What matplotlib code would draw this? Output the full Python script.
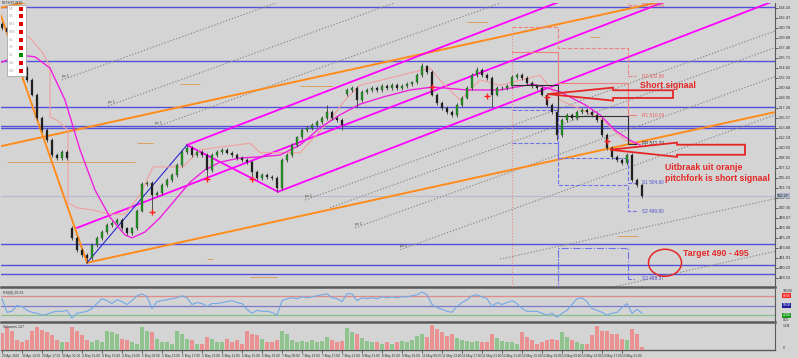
import numpy as np
import matplotlib.pyplot as plt
from matplotlib.patches import Ellipse, Polygon, Rectangle

plt.rcParams['font.family'] = ['Liberation Sans', 'DejaVu Sans']

# ---------------- data ----------------
# close of every bar, bar 0 = 29 Apr
closes = [530.8, 530.1, 527.9, 526.2, 524.0, 522.0, 519.5, 515.6, 513.5, 511.8,
          509.3, 508.8, 509.8, 508.8, 495.3, 493.3, 492.4, 491.9, 494.1, 495.3,
          496.3, 497.5, 497.9, 498.3, 496.9, 496.1, 496.9, 499.9, 504.4, 504.6,
          502.6, 502.9, 504.2, 505.1, 505.9, 507.6, 509.8, 510.5, 509.3, 509.8,
          509.3, 506.8, 509.3, 509.8, 510.2, 509.7, 509.3, 508.8, 508.5, 508.1,
          506.4, 505.4, 505.9, 505.6, 505.4, 503.7, 508.5, 509.3, 511.0, 512.3,
          513.5, 513.9, 514.4, 514.9, 515.6, 516.6, 515.6, 515.2, 514.4, 520.3,
          520.6, 518.6, 520.0, 520.3, 520.6, 520.3, 521.0, 520.6, 521.1, 520.6,
          521.0, 521.3, 521.6, 522.8, 524.3, 523.3, 519.5, 518.1, 517.3, 516.6,
          516.1, 517.8, 519.0, 520.6, 522.8, 523.7, 522.8, 522.3, 519.5, 520.6,
          520.6, 521.0, 522.5, 522.8, 522.3, 521.5, 521.0, 520.6, 519.5, 517.8,
          516.6, 512.7, 515.2, 516.1, 515.6, 516.6, 516.9, 516.6, 516.1, 515.2,
          512.7, 510.5, 509.0, 508.5, 508.0, 509.3, 505.1, 504.2, 502.4]
first_open = 531.5
gap_bars = [14, 69]
gap_opens = [497.0, 519.6]
spike_low_bars = [17, 30, 41, 50, 55, 68, 71, 90, 98, 111]
spike_lows = [491.1, 499.7, 505.5, 505.6, 503.0, 513.5, 517.4, 515.8, 517.4, 511.8]
spike_high_bars = [37, 65, 84, 95]
spike_highs = [511.0, 517.8, 524.9, 524.1]

volumes = [650, 880, 750, 380, 310, 380, 750, 880, 780, 690,
           560, 380, 310, 310, 880, 750, 560, 380, 310, 380,
           310, 750, 690, 620, 440, 380, 310, 250, 880, 750,
           690, 440, 310, 310, 250, 750, 620, 440, 380, 250,
           250, 500, 440, 310, 310, 440, 310, 380, 250, 750,
           620, 560, 440, 310, 310, 380, 750, 620, 380, 310,
           350, 300, 400, 300, 350, 500, 400, 300, 350, 850,
           700, 600, 450, 350, 300, 300, 250, 300, 250, 300,
           350, 300, 400, 550, 600, 500, 950, 800, 700, 550,
           600, 450, 400, 350, 300, 350, 300, 300, 600, 450,
           350, 310, 300, 250, 700, 500, 400, 250, 300, 380,
           440, 380, 690, 500, 400, 310, 250, 250, 560, 940,
           750, 750, 620, 620, 440, 380, 810, 620, 120]

rsi = [71, 29, 32, 50, 47, 35, 29, 26, 20, 23,
       29, 32, 32, 35, 11, 26, 29, 32, 41, 56,
       71, 65, 56, 68, 62, 53, 65, 80, 86, 77,
       41, 62, 65, 68, 71, 74, 80, 74, 53, 59,
       56, 47, 56, 56, 59, 62, 65, 59, 56, 38,
       26, 35, 32, 32, 29, 20, 65, 71, 74, 71,
       77, 74, 77, 80, 83, 86, 74, 71, 62, 86,
       86, 65, 74, 71, 74, 71, 77, 74, 77, 74,
       77, 77, 80, 83, 92, 83, 53, 44, 38, 32,
       29, 47, 59, 68, 80, 83, 77, 71, 47, 59,
       53, 59, 65, 56, 41, 32, 32, 32, 26, 20,
       26, 14, 26, 35, 53, 71, 74, 62, 41, 35,
       29, 20, 26, 29, 44, 56, 26, 38, 26]
rsi_levels = [80, 50, 20]

# magenta moving average
ma_bars = [-0.4, 3.6, 6.6, 9.6, 12.6, 15.6, 18.6, 21.6, 24.6, 26.0, 28.6, 31.6,
           34.6, 37.6, 40.6, 43.6, 47.6, 51.6, 55.6, 59.6, 63.6, 67.6, 71.6, 76.2,
           81.6, 86.2, 93.0, 99.6, 106.2, 111.6, 116.6, 119.6, 122.6, 125.6, 127.6]
ma_vals = [524.9, 526.2, 525.9, 524.0, 518.6, 510.2, 503.4, 498.8, 495.8, 495.3, 496.3, 498.7,
           501.7, 504.7, 506.8, 508.1, 508.8, 509.0, 509.3, 511.0, 513.9, 516.1, 517.9, 519.1,
           520.3, 520.8, 520.3, 520.3, 521.3, 520.0, 517.8, 516.1, 513.5, 511.8, 511.0]

# light pink trailing line
pink_bars = [4.6, 5.6, 8.2, 9.6, 9.6, 11.0, 13.2, 13.2, 15.0, 18.2, 21.6, 24.6, 27.6,
             30.2, 36.2, 39.6, 49.6, 51.6, 59.6, 65.6, 68.6, 71.6, 85.6, 87.6, 91.6,
             95.6, 99.6, 107.6, 111.6, 119.6, 124.6, 127.6]
pink_vals = [529.6, 529.1, 526.5, 524.2, 515.7, 515.2, 513.5, 501.2, 500.4, 500.0, 499.3, 499.3, 502.6,
             507.3, 507.3, 510.2, 511.3, 509.7, 509.7, 515.2, 518.6, 521.1, 524.0, 522.0, 518.6,
             522.0, 521.1, 522.8, 518.6, 515.6, 511.8, 511.0]

# horizontal support / resistance lines
sr_levels = [534.3, 525.2, 517.4, 514.2, 513.9, 494.3, 490.7, 489.2]

# short tan level segments
tan_x0 = [1.0, 35.6, 27.0, 41.0, 49.6, 93.0, 59.6, 117.6, 123.0]
tan_x1 = [26.6, 39.6, 30.2, 42.2, 55.0, 97.0, 66.2, 119.6, 127.2]
tan_p = [508.1, 521.3, 511.3, 491.7, 488.7, 531.8, 521.0, 529.3, 495.6]

# orange pitchfork (upper, median, lower tine) + handle
orange_start_bar = [-0.2, -0.2, 17.0]
orange_start_p = [534.2, 510.8, 491.1]
orange_slope = 0.185
orange_handle_bar = [-0.4, 17.0]
orange_handle_p = [533.3, 491.1]

# magenta pitchfork
mag_start_bar = [37.0, 15.0, 55.2]
mag_start_p = [511.0, 497.0, 503.1]
mag_slope = 0.325
blue_trend_bar = [17.0, 37.0]
blue_trend_p = [491.1, 511.0]

# grey dotted warning lines
dot_start_bar = [12.0, 21.2, 30.6, 60.6, 65.6, 70.6, 79.6, 99.6, 122.2]
dot_start_p = [522.0, 517.6, 514.0, 501.7, 500.4, 497.0, 493.3, 491.7, 487.0]
dot_slope = [0.304, 0.304, 0.304, 0.304, 0.304, 0.304, 0.304, 0.186, 0.186]
dot_labelled = [True, True, True, True, False, True, True, False, False]

# fractal marks
frac_bars = [30, 41, 50, 86, 97, 109, 121]
frac_p = [499.7, 505.2, 505.3, 520.8, 519.3, 519.1, 511.7]

# daily pivots: two previous days and today
piv_names = ['R3', 'R2', 'R1', 'PP', 'S1', 'S2', 'S3']
piv_day1 = [537.0, 530.9, 526.7, 521.1, 516.9, 511.3, 484.0]
piv_day2 = [537.0, 527.4, 521.5, 515.9, 508.8, 504.2, 493.6]
piv_today = [534.66, 522.66, 516.04, 511.23, 504.60, 499.80, 488.37]
piv_bounds = [102.0, 111.2, 125.2, 126.8]

date_labels = ["29 Apr 2020", "30 Apr 13:00", "30 Apr 17:00", "30 Apr 21:00", "4 May 11:00",
               "4 May 15:00", "4 May 19:00", "5 May 09:00", "5 May 13:00", "5 May 17:00",
               "5 May 21:00", "6 May 11:00", "6 May 15:00", "6 May 19:00", "7 May 09:00",
               "7 May 13:00", "7 May 17:00", "7 May 21:00", "8 May 11:00", "8 May 15:00",
               "8 May 19:00", "11 May 09:00", "11 May 13:00", "11 May 17:00", "11 May 21:00",
               "12 May 11:00", "12 May 15:00", "12 May 19:00", "13 May 09:00", "13 May 13:00",
               "13 May 17:00", "13 May 21:00"]

tf_names = ['M1', 'M5', 'M15', 'M30', 'H1', 'H4', 'D1', 'W1', 'MN']
tf_state = ['#e00000'] * 6 + ['#008a00'] + ['#e00000'] * 2

# ---------------- figure ----------------
W, H = 798, 358
BG = '#d4d4d4'
RED = '#e62626'
fig = plt.figure(figsize=(W / 100, H / 100), dpi=100, facecolor=BG)


def fx(px):
    return px / W


def fy(py):
    return 1 - py / H


ax = fig.add_axes([fx(1), fy(287), fx(775) - fx(1), fy(3) - fy(287)])
rax = fig.add_axes([fx(1), fy(322), fx(775) - fx(1), fy(289) - fy(322)], sharex=ax)
vax = fig.add_axes([fx(1), fy(350), fx(775) - fx(1), fy(324) - fy(350)], sharex=ax)

XR = 154.6
for a in (ax, rax, vax):
    a.set_facecolor(BG)
    a.spines['left'].set_visible(False)
    a.spines['top'].set_visible(False)
    a.spines['right'].set_color('#5a5a5a')
    a.spines['bottom'].set_color('#5a5a5a')
    a.spines['bottom'].set_linewidth(1.8)
ax.set_xlim(-0.2, XR)
ax.set_ylim(487.0, 535.0)

# candles
n = len(closes)
x = np.arange(n)
c = np.array(closes)
o = np.empty(n)
o[0] = first_open
o[1:] = c[:-1]
for b, v in zip(gap_bars, gap_opens):
    o[b] = v
hi = np.maximum(o, c) + 0.3
lo = np.minimum(o, c) - 0.3
for b, v in zip(spike_low_bars, spike_lows):
    lo[b] = v
for b, v in zip(spike_high_bars, spike_highs):
    hi[b] = v
up = c >= o

# horizontal levels
for p in sr_levels:
    ax.axhline(p, color='#5252d8', lw=1.0, zorder=2)
ax.axhline(closes[-1], color='#b4bccb', lw=0.8, zorder=1)

# tan segments
ax.hlines(tan_p, tan_x0, tan_x1, color='#dca060', lw=0.7, zorder=2)

# grey dotted lines
for b0, p0, s, lab in zip(dot_start_bar, dot_start_p, dot_slope, dot_labelled):
    ax.plot([b0, XR], [p0, p0 + s * (XR - b0)], color='#8a8a8a', ls=(0, (1.2, 1.6)), lw=0.8, zorder=2)
    if lab:
        ax.text(b0, p0 + 0.3, 'pz 1', fontsize=2.6, color='#404040', ha='left', va='bottom', zorder=3)

# orange pitchfork
for b0, p0 in zip(orange_start_bar, orange_start_p):
    ax.plot([b0, XR], [p0, p0 + orange_slope * (XR - b0)], color='#ff8c1a', lw=1.4, zorder=3)
ax.plot(orange_handle_bar, orange_handle_p, color='#ff8c1a', lw=1.4, zorder=3)

# magenta pitchfork
for b0, p0 in zip(mag_start_bar, mag_start_p):
    ax.plot([b0, XR], [p0, p0 + mag_slope * (XR - b0)], color='#ff00ff', lw=1.3, zorder=3)
ax.plot([mag_start_bar[0], mag_start_bar[2]], [mag_start_p[0], mag_start_p[2]], color='#ff00ff', lw=1.3, zorder=3)
ax.plot(blue_trend_bar, blue_trend_p, color='#2828d0', lw=0.8, zorder=3)

# indicator lines
ax.plot(pink_bars, pink_vals, color='#f2a0a0', lw=0.8, zorder=3)
ax.plot(ma_bars, ma_vals, color='#f020e0', lw=1.0, zorder=3)

# pivots
piv_color = ['#f08080', '#f08080', '#f08080', '#303030', '#7070e8', '#7070e8', '#7070e8']
piv_text = ['#e86060', '#e86060', '#e86060', '#303030', '#5050d0', '#5050d0', '#5050d0']
piv_ls = ['--', '--', '-', '-', '--', '--', '-.']
pb = piv_bounds
for k, name in enumerate(piv_names):
    xs = [pb[0], pb[1], pb[1], pb[2], pb[2], pb[3]]
    ys = [piv_day1[k], piv_day1[k], piv_day2[k], piv_day2[k], piv_today[k], piv_today[k]]
    ax.plot(xs, ys, color=piv_color[k], ls=piv_ls[k], lw=0.8, zorder=3)
    ax.text(pb[3] + 1.2, piv_today[k], f'{name} {piv_today[k]:.2f}', fontsize=3.4,
            color=piv_text[k], va='center', ha='left', zorder=6)
ax.plot([pb[0], pb[0]], [487.0, piv_day1[1]], color='#ec8a8a', ls=':', lw=0.8, zorder=3)
ax.plot([pb[1], pb[1]], [487.0, piv_day2[6]], color='#7a7ae0', ls=':', lw=0.8, zorder=3)

# candles on top
ax.vlines(x, lo, hi, color='#3c3c3c', lw=0.6, zorder=4)
ax.bar(x, np.maximum(np.abs(c - o), 0.08), bottom=np.minimum(o, c), width=0.5,
       color=np.where(up, '#1f9a1f', '#1e1e1e'), edgecolor='#2a2a2a', lw=0.2, zorder=5)
ax.plot(frac_bars, frac_p, ls='none', marker='+', ms=4, mew=1.0, color='#ff2020', zorder=6)

# annotations: arrows, texts, target ellipse
arrow_tip_x = [109.2, 121.6]
arrow_y = [519.6, 510.2]
arrow_head_x = [122.2, 135.0]
arrow_tail_x = [134.2, 148.6]
arrow_head_h = [1.1, 1.2]
arrow_shaft_h = [0.65, 0.85]
for tx, yy, hx, sx, hh, sh in zip(arrow_tip_x, arrow_y, arrow_head_x, arrow_tail_x,
                                  arrow_head_h, arrow_shaft_h):
    pts = [(tx, yy), (hx, yy + hh), (hx, yy + sh), (sx, yy + sh),
           (sx, yy - sh), (hx, yy - sh), (hx, yy - hh)]
    ax.add_patch(Polygon(pts, closed=True, fill=False, ec=RED, lw=1.3, zorder=7))

ax.text(127.6, 521.0, 'Short signaal', fontsize=6.3, color=RED, fontweight='bold',
        ha='left', va='center', zorder=8)
ax.text(132.6, 506.3, 'Uitbraak uit oranje\npitchfork is short signaal', fontsize=6.3,
        color=RED, fontweight='bold', ha='left', va='center', linespacing=1.25, zorder=8)
ax.text(136.2, 492.7, 'Target 490 - 495', fontsize=6.3, color=RED, fontweight='bold',
        ha='left', va='center', zorder=8)
ax.add_patch(Ellipse((132.6, 491.1), 6.6, 4.56, fill=False, ec=RED, lw=1.1, zorder=7))

# right price scale
ax.yaxis.tick_right()
ax.set_yticks(np.arange(534.16, 487.5, -1.69))
ax.yaxis.set_major_formatter(plt.FormatStrFormatter('%.2f'))
ax.tick_params(axis='y', labelsize=2.9, length=2, pad=1, colors='#303030', width=0.5)
ax.tick_params(axis='x', bottom=False, labelbottom=False)
ax.text(1.003, closes[-1], '502.27', transform=ax.get_yaxis_transform(), fontsize=2.9,
        va='center', ha='left', color='#202020',
        bbox=dict(boxstyle='square,pad=0.15', fc='#a9b2c4', ec='none'), zorder=8)

# RSI panel
rax.set_ylim(-1, 101)
rax.plot(x, rsi, color='#72a8e6', lw=0.8, zorder=3)
for lvl, col in zip(rsi_levels, ['#e08a8a', '#7a7ac8', '#88c088']):
    rax.axhline(lvl, color=col, lw=0.9, zorder=2)
rax.set_yticks([])
rax.tick_params(axis='x', bottom=False, labelbottom=False)
rax.text(0.003, 0.93, 'RSI(8) 29.23', transform=rax.transAxes, fontsize=2.6,
         color='#303030', va='top', ha='left')
ty = rax.get_yaxis_transform()
rax.text(1.01, 101, '100.00', transform=ty, fontsize=2.3, color='#303030', va='top')
rax.text(1.01, -1, '0.00', transform=ty, fontsize=2.3, color='#303030', va='bottom')
for lvl, col in zip(rsi_levels, ['#ff2020', '#1c1ca0', '#1c9a1c']):
    rax.text(1.01, lvl, f'{lvl:.2f}', transform=ty, fontsize=2.3, color='white', va='center',
             bbox=dict(boxstyle='square,pad=0.1', fc=col, ec='none'))

# volume panel
vax.set_ylim(0, 1000)
vax.bar(x, volumes, width=0.75, color=np.where(up, '#8fc48f', '#ea9292'), lw=0, zorder=3)
vax.set_yticks([])
vax.spines['bottom'].set_linewidth(1.0)
vax.text(0.003, 0.95, 'Volumes 127', transform=vax.transAxes, fontsize=2.6,
         color='#303030', va='top', ha='left')
vy = vax.get_yaxis_transform()
vax.text(1.01, 990, '1.1M', transform=vy, fontsize=2.3, color='#303030', va='top')
vax.text(1.01, 10, '0', transform=vy, fontsize=2.3, color='#303030', va='bottom')
vax.set_xticks(range(0, 4 * len(date_labels), 4))
vax.set_xticklabels(date_labels)
vax.tick_params(axis='x', labelsize=2.3, length=2, pad=0.6, colors='#303030', width=0.5)
for lab in vax.get_xticklabels():
    lab.set_ha('left')

# timeframe box top-left
tf = fig.transFigure
fig.patches.append(Rectangle((fx(7), fy(76)), fx(19), 71 / H, transform=tf, fc='white',
                             ec='#9a9a9a', lw=0.5, zorder=10))
for k, (name, col) in enumerate(zip(tf_names, tf_state)):
    yy = 8.5 + 7.8 * k
    fig.text(fx(9), fy(yy), name, fontsize=2.5, color='#b0b0b0', va='center', ha='left', zorder=11)
    fig.patches.append(Rectangle((fx(18.5), fy(yy + 2)), fx(4), 4 / H, transform=tf,
                                 fc=col, ec='none', zorder=11))
fig.text(fx(2), fy(2.5), 'NETH25,M30', fontsize=2.5, color='#303030', va='center', ha='left', zorder=9)

fig.savefig('out.png', dpi=100, facecolor=BG)
